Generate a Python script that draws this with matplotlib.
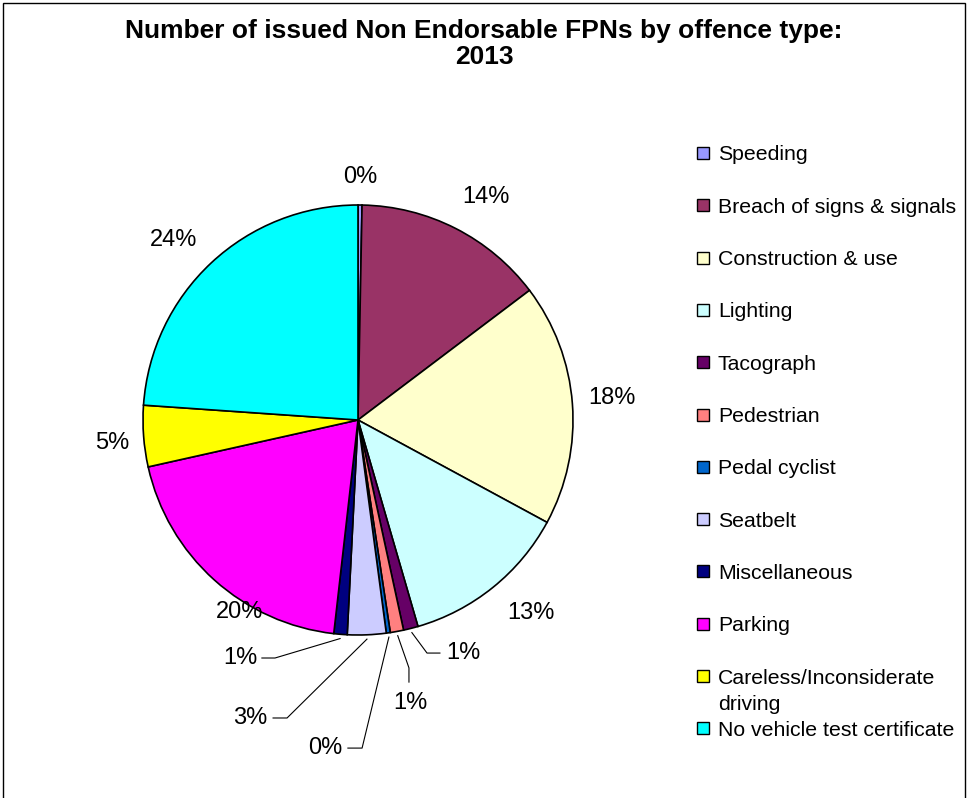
import matplotlib
matplotlib.use("Agg")
import matplotlib.pyplot as plt
from matplotlib.patches import Rectangle
import numpy as np

plt.rcParams['font.family'] = ['Liberation Sans', 'DejaVu Sans']

# share of issued Non Endorsable FPNs (%)
offences = ["Speeding", "Breach of signs & signals", "Construction & use", "Lighting",
            "Tacograph", "Pedestrian", "Pedal cyclist", "Seatbelt", "Miscellaneous",
            "Parking", "Careless/Inconsiderate\ndriving", "No vehicle test certificate"]
shares = [0.3, 14.4, 18.2, 12.6, 1.1, 1.0, 0.3, 2.9, 1.0, 19.7, 4.6, 23.9]
colors = ["#9999FF", "#993366", "#FFFFCC", "#CCFFFF", "#660066", "#FF8080",
          "#0066CC", "#CCCCFF", "#000080", "#FF00FF", "#FFFF00", "#00FFFF"]

# label placement (data units, pie radius = 1) and leader lines for the small slices
label_pos = [(0.01, 1.13), (0.595, 1.037), (1.181, 0.102), (0.805, -0.898),
             (0.488, -1.084), (0.242, -1.316), (-0.153, -1.526), (-0.502, -1.386),
             (-0.549, -1.107), (-0.549, -0.893), (-1.144, -0.107), (-0.860, 0.837)]
leaders = {4: [(0.321, -1.084), (0.381, -1.084)],
           5: [(0.237, -1.153), (0.237, -1.219)],
           6: [(0.019, -1.526), (-0.047, -1.526)],
           7: [(-0.330, -1.386), (-0.395, -1.386)],
           8: [(-0.386, -1.107), (-0.447, -1.107)]}

W, H = 968, 798
fig = plt.figure(figsize=(W / 100, H / 100), dpi=100)

# outer chart border (bottom edge runs off the picture)
fig.patches.append(Rectangle((3 / W, -0.01), 962 / W, 1.01 - 3 / H, transform=fig.transFigure,
                             fill=False, edgecolor="black", linewidth=1.0))

# pie axes: centre at (358, 420) px, radius 215 px
cx, cy, R, S = 358, 420, 215, 340
ax = fig.add_axes([(cx - S) / W, (H - cy - S) / H, 2 * S / W, 2 * S / H])

wedges, _ = ax.pie(shares, colors=colors, startangle=90, counterclock=False, radius=1,
                   wedgeprops=dict(edgecolor="black", linewidth=1.2))
ax.set_xlim(-S / R, S / R)
ax.set_ylim(-S / R, S / R)
ax.set_aspect("equal")
ax.axis("off")

for i, (w, (lx, ly)) in enumerate(zip(wedges, label_pos)):
    ax.text(lx, ly, "%.0f%%" % shares[i], ha="center", va="center", fontsize=17)
    if i in leaders:
        mid = np.deg2rad((w.theta1 + w.theta2) / 2)
        pts = [(1.02 * np.cos(mid), 1.02 * np.sin(mid))] + leaders[i]
        ax.plot([p[0] for p in pts], [p[1] for p in pts], color="black", linewidth=0.8)

fig.text(484 / W, 1 - 44 / H, "Number of issued Non Endorsable FPNs by offence type:\n2013",
         ha="center", va="center", fontsize=19, fontweight="bold", linespacing=1.1)

# legend, drawn by hand to keep Excel's even row spacing
row0, step, line_step = 153, 52.3, 27
for i, (name, col) in enumerate(zip(offences, colors)):
    y = row0 + step * i
    fig.patches.append(Rectangle((697 / W, (H - y - 6) / H), 12 / W, 12 / H,
                                 transform=fig.transFigure, facecolor=col,
                                 edgecolor="black", linewidth=1.0))
    for k, line in enumerate(name.split("\n")):
        fig.text(718 / W, (H - y - 7.5 - k * line_step) / H, line, ha="left",
                 va="baseline", fontsize=15.3)

fig.savefig("out.png", dpi=100)
